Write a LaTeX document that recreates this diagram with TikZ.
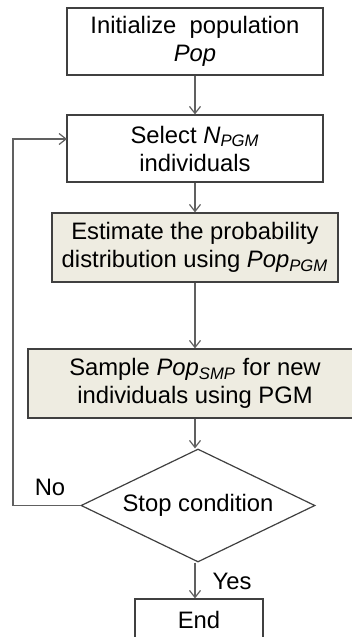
\documentclass[tikz,border=0pt]{standalone}
\usepackage{fontspec}
\setmainfont{Liberation Sans}
\usetikzlibrary{shapes.geometric,arrows.meta}
\definecolor{edgegray}{HTML}{404040}
\definecolor{linegray}{HTML}{606060}
\definecolor{boxfill}{HTML}{EEECE1}
\tikzset{
  box/.style={draw=edgegray,line width=0.6pt,inner sep=0pt,align=center,
    font=\fontsize{11.9}{14}\selectfont},
  plain/.style={box,fill=white},
  shaded/.style={box,fill=boxfill},
  decision/.style={box,diamond,fill=white,aspect=2},
  arr/.style={draw=linegray,line width=0.6pt,-{Straight Barb[length=3.5pt,width=5.5pt]}},
  lbl/.style={font=\fontsize{11.9}{14}\selectfont,inner sep=0pt}
}
\begin{document}
\begin{tikzpicture}[x=0.5pt,y=-0.5pt]
  \useasboundingbox (0,0) rectangle (352,637);
  \clip (0,0) rectangle (352,637);
  \fill[white] (0,0) rectangle (352,637);

  \node[plain,minimum width=128pt,minimum height=33.5pt] (init) at (195,41.5)
    {Initialize\ \ population\\\textit{Pop}};
  \node[plain,minimum width=128pt,minimum height=33.5pt] (select) at (195,148.5)
    {Select \textit{N}\textsubscript{\textit{PGM}}\\individuals};
  \node[shaded,minimum width=143pt,minimum height=34.5pt] (estimate) at (195,247.5)
    {Estimate the probability\\distribution using \textit{Pop}\textsubscript{\textit{PGM}}};
  \node[shaded,minimum width=167pt,minimum height=34.5pt] (sample) at (195,383.5)
    {Sample \textit{Pop}\textsubscript{\textit{SMP}} for new\\individuals using PGM};
  \node[decision,minimum width=117pt,minimum height=56.5pt] (stop) at (198,505.5)
    {Stop condition};
  \node[plain,minimum width=64pt,minimum height=20.5pt] (finish) at (199,619.5)
    {End};

  \coordinate (turn) at (13,505.5);
  \coordinate (entry) at (67,139);

  \draw[arr] (init.south) -- (select.north);
  \draw[arr] (select.south) -- (estimate.north);
  \draw[arr] (estimate.south) -- (sample.north);
  \draw[arr] (sample.south) -- (sample.south |- stop.north);
  \draw[arr] (stop.south -| sample.south) -- (sample.south |- finish.north);
  \draw[arr] (stop.west) -- (turn) |- (entry);

  \node[lbl] (no) at (50,487) {No};
  \node[lbl] (yes) at (232,581) {Yes};
\end{tikzpicture}
\end{document}
